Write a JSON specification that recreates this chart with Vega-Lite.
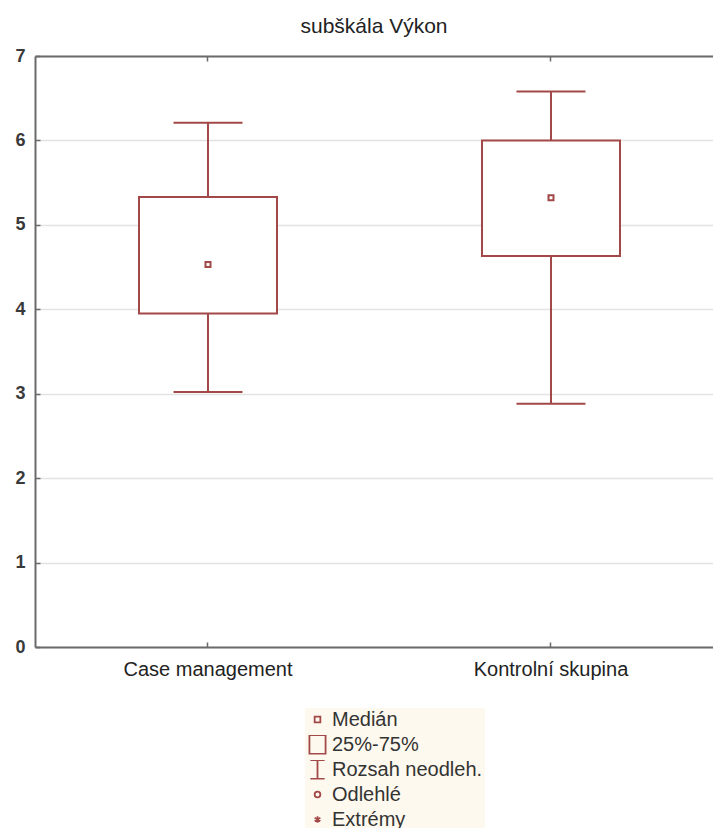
{
  "$schema": "https://vega.github.io/schema/vega-lite/v6.json",
  "width": 678,
  "height": 591,
  "autosize": {"type": "none"},
  "padding": {"left": 35, "top": 56, "right": 0, "bottom": 181},
  "background": "white",
  "title": {"text": "subškála Výkon", "fontSize": 21, "font": "Liberation Sans", "fontWeight": "normal", "color": "#222222", "offset": 10},
  "config": {
    "view": {"stroke": null},
    "axis": {"labelFont": "Liberation Sans", "titleFont": "Liberation Sans"},
    "legend": {"labelFont": "Liberation Sans"}
  },
  "datasets": {
    "boxes": [
      {"skupina": "Case management", "min": 3.02, "q1": 3.95, "median": 4.53, "q3": 5.33, "max": 6.21},
      {"skupina": "Kontrolní skupina", "min": 2.88, "q1": 4.63, "median": 5.32, "q3": 6.0, "max": 6.58}
    ],
    "legenda": [
      {"item": "Medián"},
      {"item": "25%-75%"},
      {"item": "Rozsah neodleh."},
      {"item": "Odlehlé"},
      {"item": "Extrémy"}
    ]
  },
  "resolve": {"axis": {"x": "independent"}},
  "layer": [
    {
      "data": {"name": "boxes"},
      "mark": {"type": "rule", "color": "#a34848", "strokeWidth": 2, "opacity": 1},
      "encoding": {
        "x": {"field": "skupina", "type": "nominal", "sort": null,
          "scale": {"type": "band", "paddingInner": 0.5, "paddingOuter": 0.23834, "align": 0.5336},
          "axis": {"title": null, "orient": "bottom", "labelAngle": 0, "labelFontSize": 20, "labelColor": "#222222",
            "domainColor": "#6b6b6b", "domainWidth": 2, "tickColor": "#6b6b6b", "tickSize": -5, "tickWidth": 1.5,
            "labelPadding": 17, "grid": false}},
        "y": {"field": "min", "type": "quantitative",
          "scale": {"domain": [0, 7], "nice": false, "zero": false},
          "axis": {"title": null, "values": [0, 1, 2, 3, 4, 5, 6, 7], "format": "d", "grid": true, "gridColor": "#e3e3e3", "gridWidth": 1.5,
            "tickSize": -5, "tickColor": "#6b6b6b", "tickWidth": 1.5, "labelPadding": 15, "labelFontSize": 18,
            "labelFontWeight": "bold", "labelColor": "#3a3a3a", "domainColor": "#6b6b6b", "domainWidth": 2}},
        "y2": {"field": "max"}
      }
    },
    {
      "data": {"name": "boxes"},
      "mark": {"type": "tick", "color": "#a34848", "thickness": 2, "size": 69, "orient": "horizontal", "opacity": 1},
      "encoding": {
        "x": {"field": "skupina", "type": "nominal", "sort": null, "axis": null},
        "y": {"field": "max", "type": "quantitative", "axis": {"title": null}}
      }
    },
    {
      "data": {"name": "boxes"},
      "mark": {"type": "tick", "color": "#a34848", "thickness": 2, "size": 69, "orient": "horizontal", "opacity": 1},
      "encoding": {
        "x": {"field": "skupina", "type": "nominal", "sort": null, "axis": null},
        "y": {"field": "min", "type": "quantitative", "axis": {"title": null}}
      }
    },
    {
      "data": {"name": "boxes"},
      "mark": {"type": "bar", "fill": "white", "stroke": "#a34848", "strokeWidth": 2, "size": 138, "opacity": 1},
      "encoding": {
        "x": {"field": "skupina", "type": "nominal", "sort": null, "axis": null},
        "y": {"field": "q1", "type": "quantitative", "axis": {"title": null}},
        "y2": {"field": "q3"}
      }
    },
    {
      "data": {"name": "boxes"},
      "mark": {"type": "point", "shape": "square", "filled": false, "color": "#a34848", "strokeWidth": 2, "size": 25, "opacity": 1},
      "encoding": {
        "x": {"field": "skupina", "type": "nominal", "sort": null,
          "axis": {"title": null, "orient": "top", "labels": false, "domainColor": "#6b6b6b", "domainWidth": 2,
            "tickColor": "#6b6b6b", "tickSize": -5, "tickWidth": 1.5, "grid": false}},
        "y": {"field": "median", "type": "quantitative", "axis": {"title": null}}
      }
    },
    {
      "data": {"name": "legenda"},
      "mark": {"type": "point", "filled": false, "color": "#a34848", "strokeWidth": 1.8, "opacity": 1},
      "encoding": {
        "y": {"field": "hodnota", "type": "quantitative", "axis": {"title": null}},
        "shape": {"field": "item", "type": "nominal", "sort": null,
          "scale": {
            "domain": ["Medián", "25%-75%", "Rozsah neodleh.", "Odlehlé", "Extrémy"],
            "range": [
              "M-0.3,-0.3H0.3V0.3H-0.3Z",
              "M-0.85,-1H0.85V1H-0.85Z",
              "M-0.75,-1H0.75M0,-1V1M-0.75,1H0.75",
              "M0.3,0A0.3,0.3,0,1,1,-0.3,0A0.3,0.3,0,1,1,0.3,0Z",
              "M0,-0.35V0.35M-0.3,-0.18L0.3,0.18M-0.3,0.18L0.3,-0.18"
            ]
          },
          "legend": {"title": null, "orient": "none", "legendX": 270, "legendY": 652, "direction": "vertical",
            "symbolSize": 361, "clipHeight": 19, "labelFontSize": 20, "labelColor": "#333333", "fillColor": "#fdf9ee",
            "padding": 2, "rowPadding": 4, "labelOffset": 4, "symbolStrokeWidth": 1.8}
        }
      }
    }
  ]
}
